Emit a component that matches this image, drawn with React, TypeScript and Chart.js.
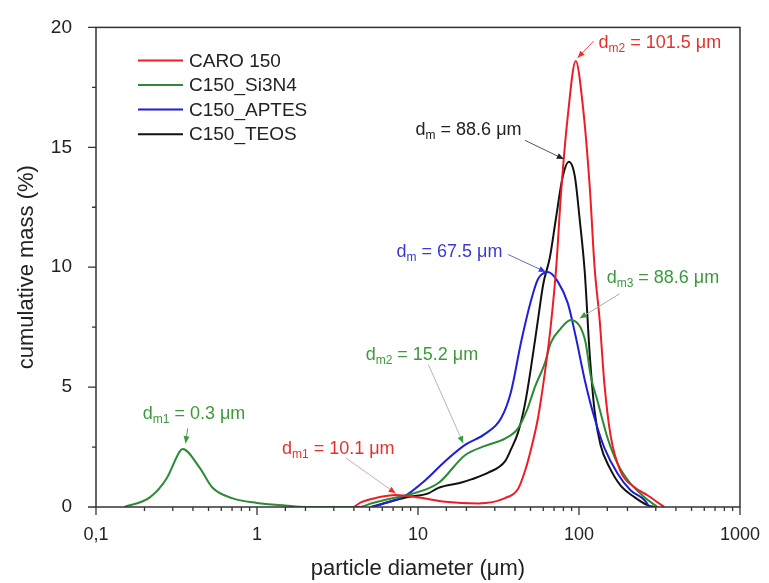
import { useEffect, useRef } from 'react';
import { Chart, registerables } from 'chart.js';

Chart.register(...registerables);

// Particle size distributions (diameter in µm, mass in %)
const caroDiam = [4.0, 4.45, 5.5, 7.26, 10.1, 14.8, 23.7, 34.7, 41.8, 46.2, 50.3, 55.6, 61.4, 66.9, 72.4, 77.2, 85.2, 95.5, 105.4, 116.5, 125, 134.4, 144, 157, 181, 221, 266, 307, 339];
const caroMass = [0, 0.2, 0.38, 0.5, 0.4, 0.22, 0.15, 0.37, 0.75, 1.5, 2.4, 3.7, 5.6, 7.6, 10.1, 13.0, 16.3, 18.6, 16.8, 13.4, 10.0, 7.8, 5.1, 3.0, 1.5, 0.82, 0.49, 0.2, 0];

const si3n4Diam = [0.15, 0.216, 0.275, 0.33, 0.345, 0.44, 0.53, 0.7, 1.0, 1.5, 2.0, 4.3, 5.16, 7.26, 8.37, 13.4, 19.5, 26.1, 34.7, 41.8, 47.9, 53.2, 61.4, 66.9, 77.2, 88.8, 102, 110, 118, 130.6, 150.6, 174, 209, 255, 307];
const si3n4Mass = [0, 0.4, 1.2, 2.3, 2.42, 1.64, 0.8, 0.37, 0.17, 0.06, 0, 0, 0.16, 0.4, 0.48, 1.0, 2.15, 2.55, 2.85, 3.28, 4.1, 5.0, 6.0, 6.85, 7.45, 7.8, 7.5, 6.85, 5.5, 4.4, 2.87, 1.8, 0.98, 0.41, 0];

const aptesDiam = [5.1, 7.26, 8.37, 11.1, 14.8, 19.7, 26.1, 32.8, 37.8, 43.6, 50.3, 55.6, 64.1, 73.9, 85.2, 95.5, 108.6, 125, 144, 174, 209, 255, 274];
const aptesMass = [0, 0.3, 0.48, 1.12, 1.92, 2.6, 3.05, 3.7, 4.8, 6.85, 8.6, 9.5, 9.8, 9.4, 8.5, 7.1, 5.3, 3.7, 2.46, 1.39, 0.7, 0.29, 0];

const teosDiam = [5.16, 6.5, 8.37, 11.6, 13.4, 18.6, 21.4, 27.3, 34.7, 37.8, 41.8, 46.2, 50.3, 55.6, 60.0, 65.9, 71.8, 79.4, 86.5, 94.2, 101, 108.6, 116.5, 125, 136, 155, 181, 221, 266, 294];
const teosMass = [0, 0.2, 0.4, 0.57, 0.8, 1.02, 1.15, 1.43, 1.9, 2.4, 3.1, 4.3, 5.8, 7.8, 9.3, 10.4, 12.0, 13.8, 14.4, 13.8, 12.0, 9.8, 6.4, 4.0, 2.6, 1.64, 0.9, 0.41, 0.08, 0];

const seriesNames = ['CARO 150', 'C150_Si3N4', 'C150_APTES', 'C150_TEOS'];
const seriesColors = ['#ee1c25', '#2b8a34', '#1f1fd6', '#111111'];

const xTickLabels: Record<string, string> = { '0.1': '0,1', '1': '1', '10': '10', '100': '100', '1000': '1000' };
const yTickStep = 2.5;

// Mode labels: text parts, colour, and data coordinates of text, arrow tail and arrow tip
const modeLabels = [
  { sub: 'm2', value: '101.5', color: '#e8302a', line: '#e25050', at: [132.4, 19.14], tail: [123.3, 19.43], tip: [98.2, 18.73] },
  { sub: 'm', value: '88.6', color: '#222222', line: '#555555', at: [9.66, 15.53], tail: [46.2, 15.29], tip: [80.5, 14.51] },
  { sub: 'm', value: '67.5', color: '#3a3ad0', line: '#6a6ab8', at: [7.36, 10.41], tail: [36.3, 10.53], tip: [62.2, 9.8] },
  { sub: 'm3', value: '88.6', color: '#3c9a3c', line: '#a4b0a4', at: [148.5, 9.34], tail: [178.6, 8.89], tip: [101.1, 7.87] },
  { sub: 'm2', value: '15.2', color: '#3c9a3c', line: '#b0b8b0', at: [4.73, 6.11], tail: [11.6, 5.94], tip: [19.1, 2.66] },
  { sub: 'm1', value: '10.1', color: '#e8302a', line: '#d8a8a8', at: [1.43, 2.21], tail: [3.56, 2.05], tip: [7.26, 0.57] },
  { sub: 'm1', value: '0.3', color: '#3c9a3c', line: '#5a9a5a', at: [0.195, 3.65], tail: [0.371, 3.28], tip: [0.36, 2.66] },
];

const FONT = '"Liberation Sans", Arial, sans-serif';

function toPoints(xs: number[], ys: number[]) {
  return xs.map((x, i) => ({ x, y: ys[i] }));
}

const isDecade = (v: number) => Math.abs(Math.log10(v) - Math.round(Math.log10(v))) < 1e-9;

const decorPlugin = {
  id: 'decor',
  afterDatasetsDraw(chart: any) {
    const { ctx, chartArea: a, scales } = chart;
    const xs = scales.x;
    const ys = scales.y;
    ctx.save();

    // frame
    ctx.strokeStyle = '#333';
    ctx.lineWidth = 1.5;
    ctx.strokeRect(a.left, a.top, a.right - a.left, a.bottom - a.top);

    // outward ticks, long at labelled values
    ctx.lineWidth = 1.3;
    ctx.beginPath();
    for (const t of xs.ticks) {
      const px = xs.getPixelForValue(t.value);
      const len = isDecade(t.value) ? 8 : 4;
      ctx.moveTo(px, a.bottom);
      ctx.lineTo(px, a.bottom + len);
    }
    for (const t of ys.ticks) {
      const py = ys.getPixelForValue(t.value);
      const len = t.value % 5 === 0 ? 8 : 4;
      ctx.moveTo(a.left, py);
      ctx.lineTo(a.left - len, py);
    }
    ctx.stroke();

    // legend
    ctx.font = `19px ${FONT}`;
    ctx.textBaseline = 'middle';
    ctx.textAlign = 'left';
    chart.data.datasets.forEach((ds: any, i: number) => {
      const y = a.top + 33 + i * 24.6;
      const x0 = a.left + 42;
      ctx.strokeStyle = ds.borderColor;
      ctx.lineWidth = 2;
      ctx.beginPath();
      ctx.moveTo(x0, y);
      ctx.lineTo(x0 + 45, y);
      ctx.stroke();
      ctx.fillStyle = '#222';
      ctx.fillText(ds.label, x0 + 51, y + 1);
    });

    // mode annotations
    ctx.textBaseline = 'alphabetic';
    for (const m of modeLabels) {
      const tx = xs.getPixelForValue(m.at[0]);
      const ty = ys.getPixelForValue(m.at[1]);
      const lx = xs.getPixelForValue(m.tail[0]);
      const ly = ys.getPixelForValue(m.tail[1]);
      const hx = xs.getPixelForValue(m.tip[0]);
      const hy = ys.getPixelForValue(m.tip[1]);

      ctx.strokeStyle = m.line;
      ctx.lineWidth = 1;
      ctx.beginPath();
      ctx.moveTo(lx, ly);
      ctx.lineTo(hx, hy);
      ctx.stroke();
      const ang = Math.atan2(hy - ly, hx - lx);
      const L = 7, W = 3;
      ctx.fillStyle = m.color;
      ctx.beginPath();
      ctx.moveTo(hx, hy);
      ctx.lineTo(hx - L * Math.cos(ang) + W * Math.sin(ang), hy - L * Math.sin(ang) - W * Math.cos(ang));
      ctx.lineTo(hx - L * Math.cos(ang) - W * Math.sin(ang), hy - L * Math.sin(ang) + W * Math.cos(ang));
      ctx.closePath();
      ctx.fill();

      let x = tx;
      ctx.font = `18px ${FONT}`;
      ctx.fillText('d', x, ty);
      x += ctx.measureText('d').width;
      ctx.font = `12px ${FONT}`;
      ctx.fillText(m.sub, x, ty + 4);
      x += ctx.measureText(m.sub).width;
      ctx.font = `18px ${FONT}`;
      ctx.fillText(` = ${m.value} \u03bcm`, x, ty);
    }
    ctx.restore();
  },
};

export default function App() {
  const ref = useRef<HTMLCanvasElement>(null);

  useEffect(() => {
    const canvas = ref.current;
    if (!canvas) return;
    const diams = [caroDiam, si3n4Diam, aptesDiam, teosDiam];
    const masses = [caroMass, si3n4Mass, aptesMass, teosMass];
    const chart = new Chart(canvas, {
      type: 'line',
      data: {
        datasets: seriesNames.map((name, i) => ({
          label: name,
          data: toPoints(diams[i], masses[i]),
          borderColor: seriesColors[i],
          backgroundColor: seriesColors[i],
          borderWidth: 2,
          pointRadius: 0,
          fill: false,
          cubicInterpolationMode: 'monotone' as const,
        })),
      },
      options: {
        animation: false,
        responsive: false,
        maintainAspectRatio: false,
        parsing: false,
        layout: { padding: { left: 0, top: 19, right: 26, bottom: 0 } },
        plugins: { legend: { display: false }, tooltip: { enabled: false } },
        scales: {
          x: {
            type: 'logarithmic',
            min: 0.1,
            max: 1000,
            afterFit: (s: any) => { s.height = 76; },
            grid: { display: false },
            border: { display: false },
            ticks: {
              autoSkip: false,
              maxRotation: 0,
              padding: 9,
              color: '#222',
              font: { family: FONT, size: 18 },
              callback: (v: any) => (isDecade(Number(v)) ? xTickLabels[String(Number(v))] ?? '' : ''),
            },
            title: {
              display: true,
              text: 'particle diameter (\u03bcm)',
              color: '#222',
              font: { family: FONT, size: 22, lineHeight: 1 },
              padding: { top: 0, bottom: 3 },
            },
          },
          y: {
            type: 'linear',
            min: 0,
            max: 20,
            afterFit: (s: any) => { s.width = 96; },
            grid: { display: false },
            border: { display: false },
            ticks: {
              stepSize: yTickStep,
              padding: 16,
              color: '#222',
              font: { family: FONT, size: 19 },
              callback: (v: any) => (Number(v) % 5 === 0 ? String(v) : ''),
            },
            title: {
              display: true,
              text: 'cumulative mass (%)',
              color: '#222',
              font: { family: FONT, size: 22, lineHeight: 1 },
              padding: { top: 16, bottom: 0 },
            },
          },
        },
      },
      plugins: [decorPlugin],
    } as any);
    return () => chart.destroy();
  }, []);

  return (
    <div style={{ position: 'absolute', left: 0, top: 0, width: 769, height: 583, background: '#fff' }}>
      <canvas ref={ref} width={769} height={583} style={{ display: 'block' }} />
    </div>
  );
}
